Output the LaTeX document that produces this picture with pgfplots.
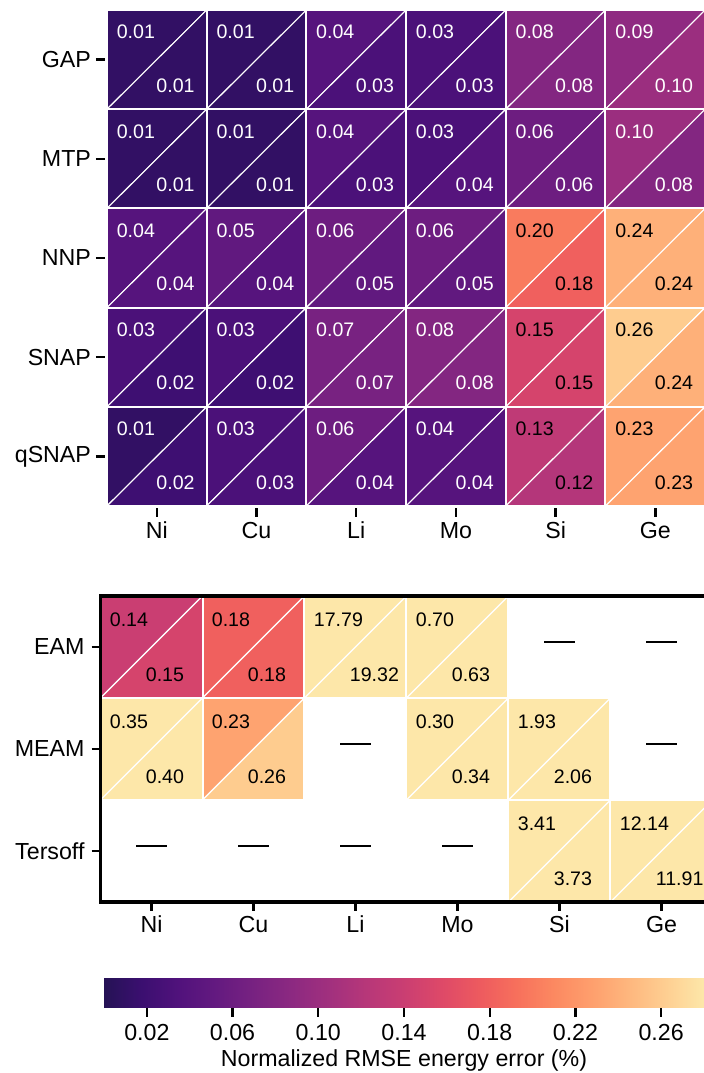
\documentclass[border=0pt]{standalone}
\usepackage{fontspec}
\setmainfont{Liberation Sans}
\usepackage{pgfplots}
\pgfplotsset{compat=1.18}
\usepackage{pgfplotstable}

\pgfplotsset{colormap={magmat}{rgb255=(37,18,85) rgb255=(59,15,112) rgb255=(81,18,124) rgb255=(100,26,128) rgb255=(120,34,129) rgb255=(140,41,129) rgb255=(161,48,126) rgb255=(183,55,121) rgb255=(202,62,114) rgb255=(222,73,104) rgb255=(237,90,95) rgb255=(247,112,92) rgb255=(252,137,97) rgb255=(254,159,109) rgb255=(254,183,126) rgb255=(254,207,146) rgb255=(253,231,169)}}

% upper-left triangle
\newcommand\ultri[2]{%
 \pgfpathmoveto{\pgfqpoint{-#1}{#2}}%
 \pgfpathlineto{\pgfqpoint{#1}{#2}}%
 \pgfpathlineto{\pgfqpoint{-#1}{-#2}}%
 \pgfpathclose\pgfusepathqfill
 \pgfsetstrokecolor{white}\pgfsetlinewidth{1pt}\pgfsetrectcap
 \pgfpathmoveto{\pgfqpoint{#1}{#2}}\pgfpathlineto{\pgfqpoint{-#1}{#2}}\pgfpathlineto{\pgfqpoint{-#1}{-#2}}\pgfusepathqstroke
 \pgfsetlinewidth{0.55pt}\pgfsetbuttcap
 \pgfpathmoveto{\pgfqpoint{#1}{#2}}\pgfpathlineto{\pgfqpoint{-#1}{-#2}}\pgfusepathqstroke}
% lower-right triangle
\newcommand\lrtri[2]{%
 \pgfpathmoveto{\pgfqpoint{#1}{#2}}%
 \pgfpathlineto{\pgfqpoint{#1}{-#2}}%
 \pgfpathlineto{\pgfqpoint{-#1}{-#2}}%
 \pgfpathclose\pgfusepathqfill
 \pgfsetstrokecolor{white}\pgfsetlinewidth{1pt}\pgfsetrectcap
 \pgfpathmoveto{\pgfqpoint{#1}{#2}}\pgfpathlineto{\pgfqpoint{#1}{-#2}}\pgfpathlineto{\pgfqpoint{-#1}{-#2}}\pgfusepathqstroke
 \pgfsetlinewidth{0.55pt}\pgfsetbuttcap
 \pgfpathmoveto{\pgfqpoint{#1}{#2}}\pgfpathlineto{\pgfqpoint{-#1}{-#2}}\pgfusepathqstroke}
\pgfdeclareplotmark{ulA}{\ultri{24.925pt}{24.8pt}}
\pgfdeclareplotmark{lrA}{\lrtri{24.925pt}{24.8pt}}
\pgfdeclareplotmark{ulB}{\ultri{25.5pt}{25.5pt}}
\pgfdeclareplotmark{lrB}{\lrtri{25.5pt}{25.5pt}}

\newcommand\cellfont{\fontsize{9.8}{11}\selectfont}
\newcommand\labfont{\fontsize{11.6}{13}\selectfont}

\pgfplotsset{
 tri/.style 2 args={scatter, only marks, mark=#1,
   scatter/use mapped color={draw=white, fill=mapped color},
   point meta=\thisrow{#2}},
 lab/.style n args={4}{only marks, mark=none,
   point meta=\thisrow{#1},
   nodes near coords={\pgfmathprintnumber[fixed,fixed zerofill,precision=2]{\pgfplotspointmeta}},
   every node near coord/.append style={text=#2, anchor=west, inner sep=0pt, xshift=#3, yshift=#4, font=\cellfont}},
 base/.style={scale only axis, anchor=south west, clip=false,
   colormap name=magmat, point meta min=0, point meta max=0.28,
   /pgf/number format/assume math mode=true,
   tick align=outside, major tick length=4.5pt,
   tick style={black, line width=1.2pt},
   ticklabel style={font=\labfont},
   xtick pos=left, ytick pos=left}
}

% top panel: x = element (Ni..Ge), y = method (GAP=4 ... qSNAP=0)
% cells with white text
\pgfplotstableread{
x y a b
0 4 0.01 0.01
1 4 0.01 0.01
2 4 0.04 0.03
3 4 0.03 0.03
4 4 0.08 0.08
5 4 0.09 0.10
0 3 0.01 0.01
1 3 0.01 0.01
2 3 0.04 0.03
3 3 0.03 0.04
4 3 0.06 0.06
5 3 0.10 0.08
0 2 0.04 0.04
1 2 0.05 0.04
2 2 0.06 0.05
3 2 0.06 0.05
0 1 0.03 0.02
1 1 0.03 0.02
2 1 0.07 0.07
3 1 0.08 0.08
0 0 0.01 0.02
1 0 0.03 0.03
2 0 0.06 0.04
3 0 0.04 0.04
}\topdataW
% cells with black text
\pgfplotstableread{
x y a b
4 2 0.20 0.18
5 2 0.24 0.24
4 1 0.15 0.15
5 1 0.26 0.24
4 0 0.13 0.12
5 0 0.23 0.23
}\topdataK

% bottom panel: y = EAM 2, MEAM 1, Tersoff 0
\pgfplotstableread{
x y a b
0 2 0.14 0.15
1 2 0.18 0.18
2 2 17.79 19.32
3 2 0.70 0.63
0 1 0.35 0.40
1 1 0.23 0.26
3 1 0.30 0.34
4 1 1.93 2.06
4 0 3.41 3.73
5 0 12.14 11.91
}\botdata

\pgfplotstableread{
x y
4 2
5 2
2 1
5 1
0 0
1 0
2 0
3 0
}\missing

\begin{document}
\begin{tikzpicture}
\useasboundingbox (0,0) rectangle (352pt,536.5pt);
\clip (0,0) rectangle (352pt,536.5pt);

\begin{axis}[base, at={(53.5pt,283.5pt)}, width=299.1pt, height=248pt,
  xmin=-0.5, xmax=5.5, ymin=-0.5, ymax=4.5,
  axis line style={draw=none},
  xtick={0,...,5}, xticklabels={Ni,Cu,Li,Mo,Si,Ge},
  ytick={0,...,4}, yticklabels={qSNAP,SNAP,NNP,MTP,GAP},
  x tick style={yshift=-1pt}, y tick style={xshift=-1pt}]
\addplot[tri={ulA}{a}] table[x=x,y=y] {\topdataW};
\addplot[tri={lrA}{b}] table[x=x,y=y] {\topdataW};
\addplot[tri={ulA}{a}] table[x=x,y=y] {\topdataK};
\addplot[tri={lrA}{b}] table[x=x,y=y] {\topdataK};
\addplot[lab={a}{white}{-20.2pt}{13.75pt}] table[x=x,y=y] {\topdataW};
\addplot[lab={b}{white}{-0.4pt}{-13pt}] table[x=x,y=y] {\topdataW};
\addplot[lab={a}{black}{-20.2pt}{13.75pt}] table[x=x,y=y] {\topdataK};
\addplot[lab={b}{black}{-0.4pt}{-13pt}] table[x=x,y=y] {\topdataK};
\end{axis}

\begin{axis}[base, at={(50.25pt,85.5pt)}, width=306pt, height=153pt,
  xmin=-0.5, xmax=5.5, ymin=-0.5, ymax=2.5,
  axis line style={draw=none},
  after end axis/.code={\draw[line width=1.6pt, black] (rel axis cs:0,0) rectangle (rel axis cs:1,1);},
  xtick={0,...,5}, xticklabels={Ni,Cu,Li,Mo,Si,Ge},
  xticklabel style={yshift=1pt},
  ytick={0,...,2}, yticklabels={Tersoff,MEAM,EAM}]
\addplot[tri={ulB}{a}] table[x=x,y=y] {\botdata};
\addplot[tri={lrB}{b}] table[x=x,y=y] {\botdata};
\addplot[lab={a}{black}{-21pt}{13.75pt}] table[x=x,y=y] {\botdata};
\addplot[lab={b}{black}{-3pt}{-13.85pt}] table[x=x,y=y] {\botdata};
\addplot[only marks, mark=-, mark size=7.65pt, mark options={line width=0.6pt, black}, yshift=2.5pt] table[x=x,y=y] {\missing};
\end{axis}

\begin{axis}[base, at={(52pt,32.5pt)}, width=300pt, height=15pt,
  xmin=0, xmax=0.28, ymin=0, ymax=1,
  axis line style={draw=none}, ytick=\empty,
  xtick={0.02,0.06,0.10,0.14,0.18,0.22,0.26},
  xticklabel={\pgfmathprintnumber[fixed,fixed zerofill,precision=2]{\tick}},
  xlabel={Normalized RMSE energy error (\%)},
  xlabel style={font=\labfont, inner sep=0pt, yshift=-1pt}]
\addplot[surf, shader=interp, point meta=x, mesh/rows=2] coordinates {(0,0) (0.28,0) (0,1) (0.28,1)};
\end{axis}
\end{tikzpicture}
\end{document}
